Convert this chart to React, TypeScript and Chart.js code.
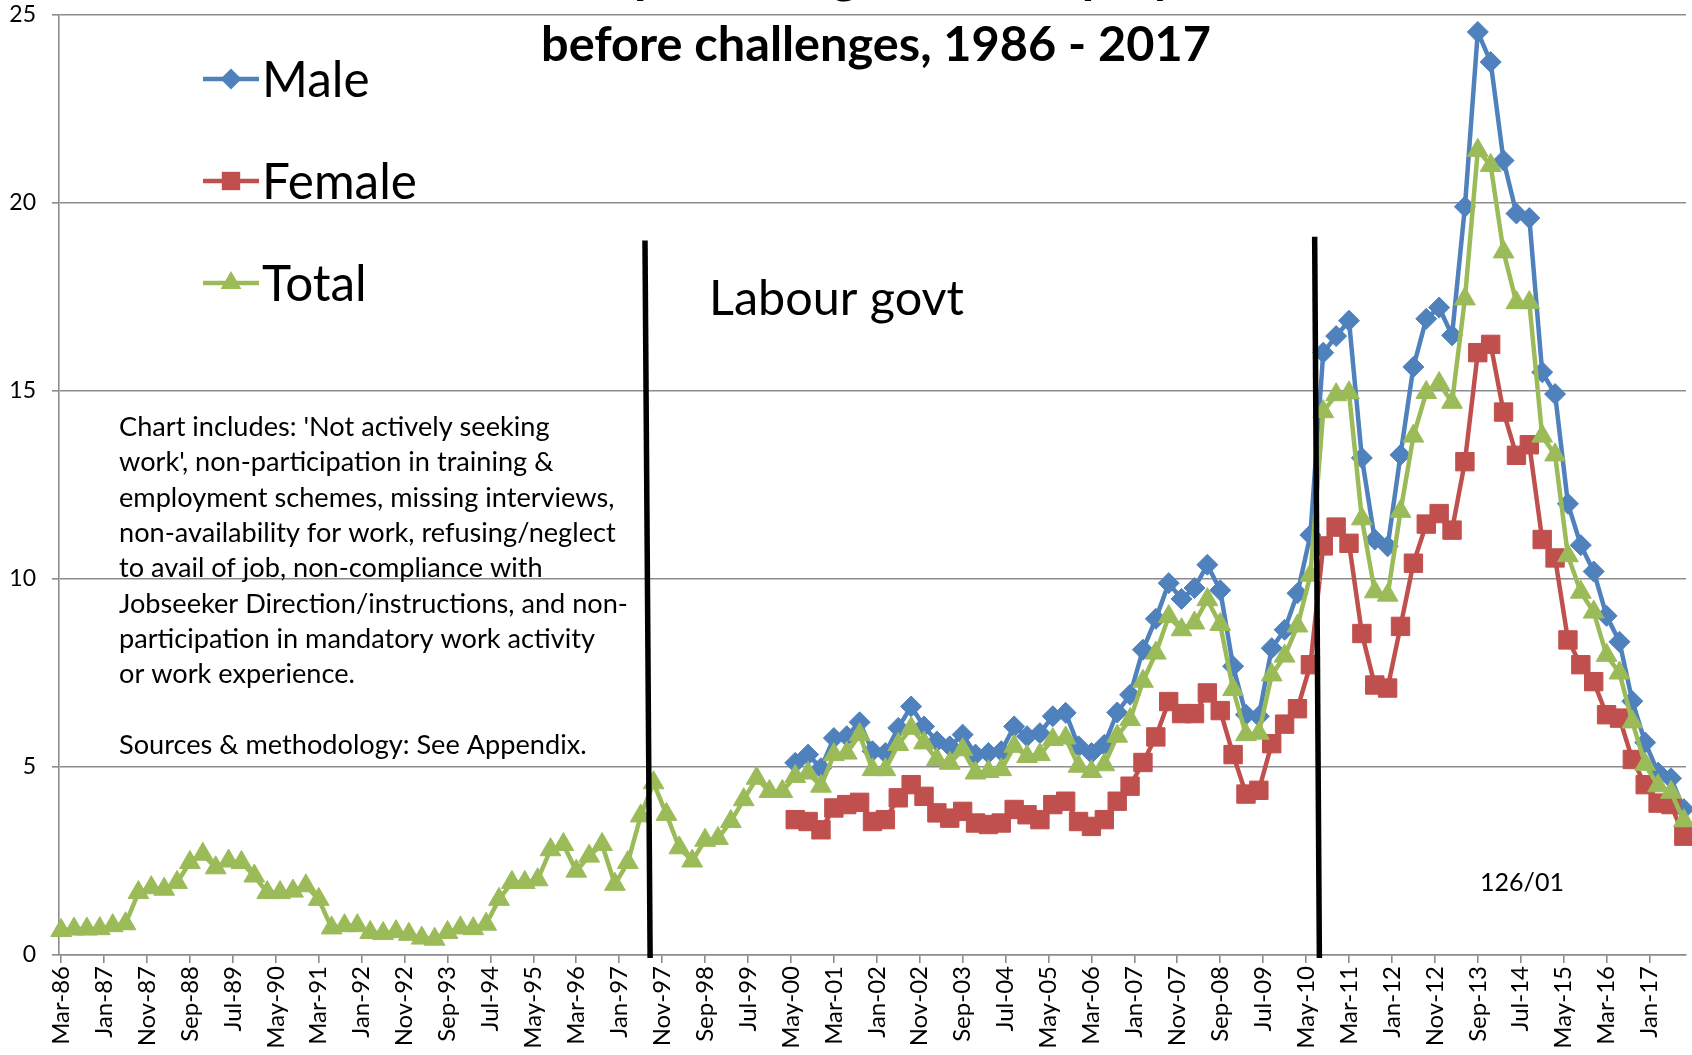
import React, { useEffect, useRef } from 'react';
import { Chart, registerables } from 'chart.js';

Chart.register(...registerables);

// ---------- DATA ----------
const TICK_LABELS = [
  'Mar-86', 'Jan-87', 'Nov-87', 'Sep-88', 'Jul-89', 'May-90', 'Mar-91', 'Jan-92', 'Nov-92', 'Sep-93',
  'Jul-94', 'May-95', 'Mar-96', 'Jan-97', 'Nov-97', 'Sep-98', 'Jul-99', 'May-00', 'Mar-01', 'Jan-02',
  'Nov-02', 'Sep-03', 'Jul-04', 'May-05', 'Mar-06', 'Jan-07', 'Nov-07', 'Sep-08', 'Jul-09', 'May-10',
  'Mar-11', 'Jan-12', 'Nov-12', 'Sep-13', 'Jul-14', 'May-15', 'Mar-16', 'Jan-17',
];
const TICK_STEP_MONTHS = 10;
const MONTHS_PER_QUARTER = 3; // one value per quarter, starting Mar-86
const Y_TICKS = [0, 5, 10, 15, 20, 25];

// Total, quarterly Mar-86 .. Sep-17
const TOTAL = [
  0.65, 0.69, 0.69, 0.7, 0.78, 0.83, 1.66, 1.79, 1.75, 1.93,
  2.46, 2.68, 2.32, 2.5, 2.46, 2.1, 1.66, 1.66, 1.7, 1.84,
  1.48, 0.72, 0.78, 0.78, 0.6, 0.57, 0.62, 0.55, 0.45, 0.42,
  0.6, 0.72, 0.7, 0.82, 1.48, 1.93, 1.93, 2.0, 2.8, 2.94,
  2.23, 2.63, 2.94, 1.88, 2.46, 3.7, 4.58, 3.74, 2.85, 2.5,
  3.05, 3.1, 3.55, 4.13, 4.7, 4.35, 4.35, 4.75, 4.84, 4.49,
  5.33, 5.37, 5.86, 4.93, 4.93, 5.6, 6.03, 5.64, 5.2, 5.1,
  5.46, 4.84, 4.88, 4.93, 5.55, 5.28, 5.33, 5.73, 5.77, 5.02,
  4.88, 5.06, 5.82, 6.26, 7.28, 8.03, 9.0, 8.65, 8.83, 9.45,
  8.79, 7.06, 5.86, 5.9, 7.45, 7.95, 8.75, 10.1, 14.45, 14.9,
  14.95, 11.6, 9.66, 9.57, 11.8, 13.8, 14.96, 15.2, 14.7, 17.45,
  21.4, 21.0, 18.7, 17.35, 17.35, 13.8, 13.3, 10.62, 9.65, 9.12,
  7.97, 7.5, 6.2, 5.07, 4.5, 4.33, 3.57,
];

// Male and Female start in quarter 57 (Jun-00)
const SEX_FIRST_QUARTER = 57;
const MALE = [
  5.11, 5.33, 4.97, 5.77, 5.82, 6.19, 5.42, 5.37, 6.04, 6.61,
  6.08, 5.68, 5.55, 5.86, 5.33, 5.37, 5.42, 6.08, 5.82, 5.9,
  6.35, 6.44, 5.55, 5.37, 5.59, 6.45, 6.92, 8.12, 8.94, 9.89,
  9.47, 9.76, 10.38, 9.7, 7.68, 6.39, 6.35, 8.16, 8.65, 9.62,
  11.17, 16.02, 16.46, 16.87, 13.22, 11.05, 10.87, 13.3, 15.64, 16.92,
  17.22, 16.48, 19.9, 24.55, 23.75, 21.13, 19.72, 19.6, 15.5, 14.92,
  12.0, 10.9, 10.2, 9.02, 8.33, 6.75, 5.65, 4.85, 4.7, 3.88,
];
const FEMALE = [
  3.6, 3.55, 3.33, 3.91, 4.0, 4.06, 3.55, 3.6, 4.18, 4.53,
  4.22, 3.78, 3.64, 3.82, 3.51, 3.47, 3.51, 3.87, 3.73, 3.6,
  4.0, 4.09, 3.55, 3.42, 3.6, 4.09, 4.49, 5.12, 5.8, 6.74,
  6.42, 6.42, 6.97, 6.5, 5.33, 4.28, 4.38, 5.62, 6.14, 6.55,
  7.72, 10.88, 11.38, 10.95, 8.55, 7.18, 7.1, 8.74, 10.42, 11.46,
  11.74, 11.3, 13.12, 16.02, 16.24, 14.44, 13.29, 13.57, 11.05, 10.56,
  8.38, 7.72, 7.27, 6.39, 6.3, 5.2, 4.53, 4.04, 4.0, 3.16,
];

// Labour government boundary lines (months from Mar-86, value range)
const GOVT_LINES = [
  { topMonth: 136.0, bottomMonth: 137.2, top: 19.0, bottom: -0.08 },
  { topMonth: 292.0, bottomMonth: 293.1, top: 19.1, bottom: -0.08 },
];

const TITLE_1_LEAD = 'Sanctions as a ';
const TITLE_1_REST = 'percentage of unemployed claimants,';
const TITLE_2 = 'before challenges, 1986 - 2017';
const NOTE_LINES = [
  "Chart includes: 'Not actively seeking",
  "work', non-participation in training &",
  'employment schemes, missing interviews,',
  'non-availability for work, refusing/neglect',
  'to avail of job, non-compliance with',
  'Jobseeker Direction/instructions, and non-',
  'participation in mandatory work activity',
  'or work experience.',
  '',
  'Sources & methodology: See Appendix.',
];
const LABOUR_TEXT = 'Labour govt';
const CODE_TEXT = '126/01';

const BLUE = '#4F81BD';
const RED = '#C0504D';
const GREEN = '#9BBB59';
const GRID = '#8c8c8c';
const FONT = 'Lato';

const SERIES = [
  { label: 'Male', color: BLUE, style: 'rectRot', radius: 10.5 },
  { label: 'Female', color: RED, style: 'rect', radius: 13 },
  { label: 'Total', color: GREEN, style: 'triangle', radius: 12 },
];

// ---------- helpers ----------
function fitSize(ctx: CanvasRenderingContext2D, text: string, weight: string, targetW: number) {
  ctx.font = `${weight} 100px ${FONT}`;
  return (100 * targetW) / ctx.measureText(text).width;
}

function drawMarker(ctx: CanvasRenderingContext2D, style: string, x: number, y: number, r: number, color: string) {
  ctx.fillStyle = color;
  ctx.beginPath();
  if (style === 'rectRot') {
    ctx.moveTo(x - r, y);
    ctx.lineTo(x, y - r);
    ctx.lineTo(x + r, y);
    ctx.lineTo(x, y + r);
  } else if (style === 'rect') {
    const s = Math.SQRT1_2 * r;
    ctx.rect(x - s, y - s, 2 * s, 2 * s);
  } else {
    const a = (Math.PI * 2) / 3;
    ctx.moveTo(x, y - r);
    ctx.lineTo(x + Math.sin(a) * r, y - Math.cos(a) * r);
    ctx.lineTo(x - Math.sin(a) * r, y - Math.cos(a) * r);
  }
  ctx.closePath();
  ctx.fill();
}

const overlayPlugin = {
  id: 'overlay',
  afterDatasetsDraw(chart: any) {
    const { ctx } = chart;
    const xs = chart.scales.x;
    const ys = chart.scales.y;
    ctx.save();

    // government boundary lines
    ctx.strokeStyle = '#000';
    ctx.lineWidth = 5.5;
    for (const l of GOVT_LINES) {
      ctx.beginPath();
      ctx.moveTo(xs.getPixelForValue(l.topMonth), ys.getPixelForValue(l.top));
      ctx.lineTo(xs.getPixelForValue(l.bottomMonth), ys.getPixelForValue(l.bottom));
      ctx.stroke();
    }

    ctx.fillStyle = '#000';
    ctx.textBaseline = 'alphabetic';

    // title, line 2
    const tSize = fitSize(ctx, TITLE_2, 'bold', 670);
    ctx.font = `bold ${tSize}px ${FONT}`;
    ctx.textAlign = 'center';
    ctx.fillText(TITLE_2, 876, 61);

    // title, line 1 (mostly above the canvas); stretch so the known part spans 634..1469
    ctx.textAlign = 'left';
    const wLead = ctx.measureText(TITLE_1_LEAD).width;
    const wRest = ctx.measureText(TITLE_1_REST).width;
    const sx = (1469 - 634) / wRest;
    ctx.save();
    ctx.translate(634 - wLead * sx, -7);
    ctx.scale(sx, 1);
    ctx.fillText(TITLE_1_LEAD + TITLE_1_REST, 0, 0);
    ctx.restore();

    // legend
    const lSize = fitSize(ctx, 'Female', 'normal', 155);
    ctx.font = `normal ${lSize}px ${FONT}`;
    ctx.textAlign = 'left';
    SERIES.forEach((s, i) => {
      const base = 97 + i * 102;
      const cy = base - 18;
      ctx.strokeStyle = s.color;
      ctx.lineWidth = 4.5;
      ctx.beginPath();
      ctx.moveTo(203, cy);
      ctx.lineTo(259, cy);
      ctx.stroke();
      drawMarker(ctx, s.style, 231, cy, s.radius, s.color);
      ctx.fillStyle = '#000';
      ctx.fillText(s.label, 262, base);
    });

    // Labour govt label
    const gSize = fitSize(ctx, LABOUR_TEXT, 'normal', 255);
    ctx.font = `normal ${gSize}px ${FONT}`;
    ctx.fillText(LABOUR_TEXT, 709, 315);

    // notes
    const n1 = fitSize(ctx, NOTE_LINES[0], 'normal', 428);
    const n2 = fitSize(ctx, NOTE_LINES[3], 'normal', 500);
    ctx.font = `normal ${(n1 + n2) / 2}px ${FONT}`;
    NOTE_LINES.forEach((line, i) => {
      if (line) ctx.fillText(line, 119, 436 + i * 35.3);
    });

    // code label
    const cSize = fitSize(ctx, CODE_TEXT, 'normal', 84);
    ctx.font = `normal ${cSize}px ${FONT}`;
    ctx.fillText(CODE_TEXT, 1480, 891);

    ctx.restore();
  },
};

export default function App() {
  const ref = useRef<HTMLCanvasElement>(null);

  useEffect(() => {
    const canvas = ref.current;
    if (!canvas) return;
    Chart.defaults.font.family = FONT;

    const seriesData = [
      MALE.map((v, i) => ({ x: (SEX_FIRST_QUARTER + i) * MONTHS_PER_QUARTER, y: v })),
      FEMALE.map((v, i) => ({ x: (SEX_FIRST_QUARTER + i) * MONTHS_PER_QUARTER, y: v })),
      TOTAL.map((v, i) => ({ x: i * MONTHS_PER_QUARTER, y: v })),
    ];

    const chart = new Chart(canvas, {
      type: 'line',
      data: {
        datasets: SERIES.map((s, i) => ({
          label: s.label,
          data: seriesData[i],
          borderColor: s.color,
          backgroundColor: s.color,
          borderWidth: 4.5,
          pointStyle: s.style as any,
          pointRadius: s.radius,
          pointBorderWidth: 1,
          pointBackgroundColor: s.color,
          pointBorderColor: s.color,
          tension: 0,
          clip: false,
          order: 3 - i,
        })),
      },
      options: {
        animation: false,
        responsive: false,
        devicePixelRatio: 1,
        layout: { autoPadding: false, padding: { top: 15, right: 6, left: 0, bottom: 0 } },
        plugins: { legend: { display: false }, tooltip: { enabled: false } },
        scales: {
          x: {
            type: 'linear',
            min: -0.5,
            max: (TOTAL.length - 1) * MONTHS_PER_QUARTER + 0.5,
            afterBuildTicks: (s: any) => {
              s.ticks = TICK_LABELS.map((_, i) => ({ value: i * TICK_STEP_MONTHS }));
            },
            afterFit: (s: any) => {
              s.height = 100;
              s.paddingLeft = 0;
              s.paddingRight = 0;
            },
            ticks: {
              autoSkip: false,
              minRotation: 90,
              maxRotation: 90,
              padding: 3,
              color: '#000',
              font: { family: FONT, size: 24 },
              callback: (v: any) => TICK_LABELS[Math.round(Number(v) / TICK_STEP_MONTHS)] ?? '',
            },
            grid: { drawOnChartArea: false, drawTicks: true, tickLength: 8, color: GRID, lineWidth: 1.6 },
            border: { color: GRID, width: 1.6 },
          },
          y: {
            min: 0,
            max: 25,
            afterBuildTicks: (s: any) => {
              s.ticks = Y_TICKS.map((v) => ({ value: v }));
            },
            afterFit: (s: any) => {
              s.width = 59;
              s.paddingTop = 0;
              s.paddingBottom = 0;
            },
            ticks: { padding: 16, color: '#000', font: { family: FONT, size: 23 } },
            grid: { color: GRID, lineWidth: 1.6, tickLength: 7 },
            border: { color: GRID, width: 1.6 },
          },
        },
      },
      plugins: [overlayPlugin],
    } as any);

    return () => chart.destroy();
  }, []);

  return (
    <div style={{ position: 'fixed', left: 0, top: 0, width: 1692, height: 1055, background: '#fff' }}>
      <canvas ref={ref} width={1692} height={1055} style={{ display: 'block', width: 1692, height: 1055 }} />
    </div>
  );
}
